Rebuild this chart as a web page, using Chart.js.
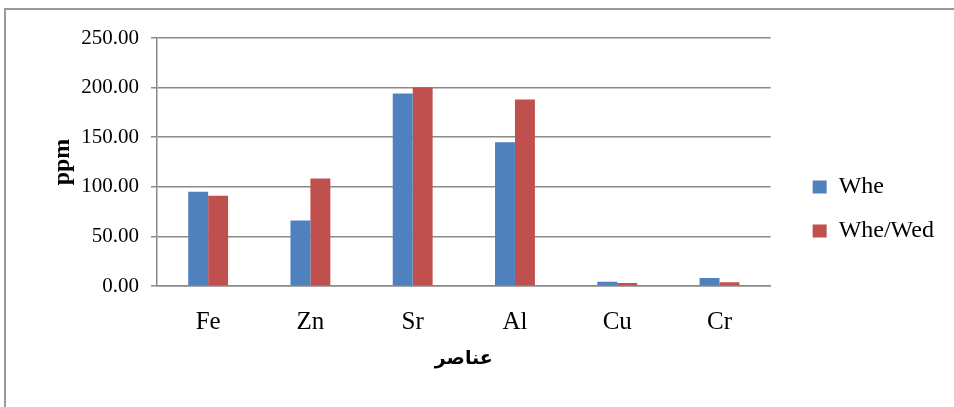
<!DOCTYPE html>
<html>
<head>
<meta charset="utf-8">
<style>
    body { margin: 0; background: #fff; }
    .chart-container { position: relative; width: 954px; height: 407px; overflow: hidden; }
    .frame { position: absolute; left: 4px; top: 8px; right: -10px; bottom: -10px;
             border-left: 2px solid #9a9a9a; border-top: 2px solid #9a9a9a; pointer-events: none; }
</style>
</head>
<body>
<div class="chart-container">
    <canvas id="myChart"></canvas>
    <div class="frame"></div>
</div>

<script src="https://cdn.jsdelivr.net/npm/chart.js"></script>

<script>
    // values
    const categories = ['Fe', 'Zn', 'Sr', 'Al', 'Cu', 'Cr'];
    const wheValues = [95, 66, 194, 145, 4.3, 8];
    const wheWedValues = [91, 108.4, 200, 188, 3, 3.7];
    const yTicks = [0, 50, 100, 150, 200, 250];

    const gridColor = '#8a8a8a';
    const serif = "'Liberation Serif', 'Times New Roman', serif";

    const ctx = document.getElementById('myChart').getContext('2d');

    new Chart(ctx, {
        type: 'bar',
        data: {
            labels: categories,
            datasets: [
                { label: 'Whe', data: wheValues, backgroundColor: '#4F81BD' },
                { label: 'Whe/Wed', data: wheWedValues, backgroundColor: '#C0504D' }
            ]
        },
        options: {
            responsive: true,
            maintainAspectRatio: false,
            animation: false,
            categoryPercentage: 0.39,
            barPercentage: 1,
            layout: { padding: { left: 0, top: 38, right: 10, bottom: 27 } },
            plugins: {
                tooltip: { enabled: false },
                legend: {
                    position: 'right',
                    labels: {
                        boxWidth: 14,
                        boxHeight: 13,
                        padding: 20,
                        color: '#000',
                        font: { family: serif, size: 24 }
                    }
                }
            },
            scales: {
                x: {
                    grid: { display: false, drawTicks: false },
                    border: { display: true, color: gridColor, width: 1.5 },
                    ticks: { color: '#000', padding: 21, font: { family: serif, size: 25 } },
                    title: {
                        display: true,
                        text: 'عناصر',
                        color: '#000',
                        padding: { top: 0, bottom: 10 },
                        font: { family: serif + ", 'DejaVu Sans'", size: 19, weight: 'bold' }
                    },
                    afterFit: scale => { scale.height = 94; }
                },
                y: {
                    min: 0,
                    max: 250,
                    afterBuildTicks: scale => { scale.ticks = yTicks.map(v => ({ value: v })); },
                    grid: { color: gridColor, lineWidth: 1.5, tickLength: 6 },
                    border: { display: true, color: gridColor, width: 1.5 },
                    ticks: {
                        color: '#000',
                        padding: 12,
                        font: { family: serif, size: 21 },
                        callback: value => value.toFixed(2)
                    },
                    title: {
                        display: true,
                        text: 'ppm',
                        color: '#000',
                        padding: { top: 48, bottom: 0 },
                        font: { family: serif, size: 24, weight: 'bold' }
                    },
                    afterFit: scale => { scale.width = 157; }
                },
                gap: {
                    // empty axis, keeps the space between the plot and the legend
                    type: 'linear',
                    position: 'right',
                    grid: { display: false },
                    border: { display: false },
                    ticks: { display: false },
                    afterFit: scale => { scale.width = 22; }
                }
            }
        }
    });
</script>
</body>
</html>
